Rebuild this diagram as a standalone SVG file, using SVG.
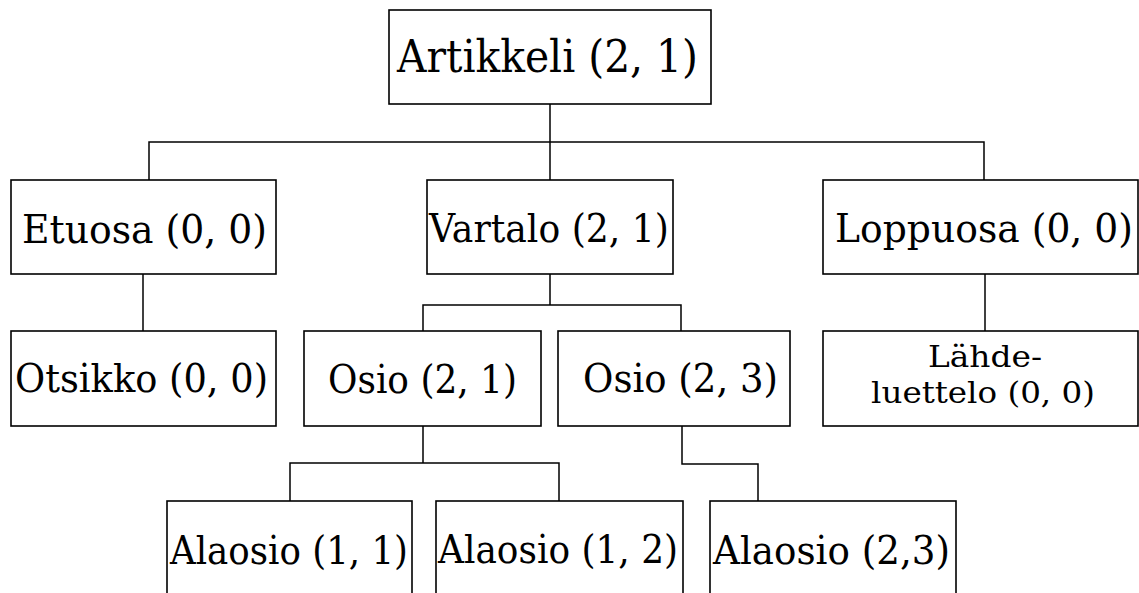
<svg xmlns="http://www.w3.org/2000/svg" width="1139" height="593" viewBox="0 0 1139 593">
<style>
.box{fill:#fff;stroke:#000;stroke-width:1.6}
.lbl{font-family:"DejaVu Serif","Liberation Serif",serif;font-size:39px;fill:#000}
.big{font-size:45px}
.small{font-size:29px}
.conn{fill:none;stroke:#000;stroke-width:1.5}
</style>
<rect width="1139" height="593" fill="#fff"/>
<g id="connectors">
<path class="conn" d="M550,104 V180"/>
<path class="conn" d="M149,180 V142 H984 V180"/>
<path class="conn" d="M143,274 V331"/>
<path class="conn" d="M550,274 V305 M423,331 V305 H681 V331"/>
<path class="conn" d="M985,274 V331"/>
<path class="conn" d="M423,426 V463 M290,501 V463 H559 V501"/>
<path class="conn" d="M682,426 V464 H758 V501"/>
</g>
<g id="artikkeli"><rect class="box" x="389" y="10" width="322" height="94"/><text class="lbl big" x="397" y="72" textLength="301" lengthAdjust="spacingAndGlyphs">Artikkeli (2, 1)</text></g>
<g id="etuosa"><rect class="box" x="11" y="180" width="265" height="94"/><text class="lbl" x="22" y="243" textLength="245" lengthAdjust="spacingAndGlyphs">Etuosa (0, 0)</text></g>
<g id="vartalo"><rect class="box" x="427" y="180" width="246" height="94"/><text class="lbl" x="429" y="242" textLength="240" lengthAdjust="spacingAndGlyphs">Vartalo (2, 1)</text></g>
<g id="loppuosa"><rect class="box" x="823" y="180" width="315" height="94"/><text class="lbl" x="835" y="242" textLength="298" lengthAdjust="spacingAndGlyphs">Loppuosa (0, 0)</text></g>
<g id="otsikko"><rect class="box" x="11" y="331" width="265" height="95"/><text class="lbl" x="15" y="392" textLength="253" lengthAdjust="spacingAndGlyphs">Otsikko (0, 0)</text></g>
<g id="osio21"><rect class="box" x="304" y="331" width="237" height="95"/><text class="lbl" x="328" y="393" textLength="189" lengthAdjust="spacingAndGlyphs">Osio (2, 1)</text></g>
<g id="osio23"><rect class="box" x="558" y="331" width="232" height="95"/><text class="lbl" x="583" y="392" textLength="195" lengthAdjust="spacingAndGlyphs">Osio (2, 3)</text></g>
<g id="lahdeluettelo"><rect class="box" x="823" y="331" width="315" height="95"/><text class="lbl small" x="928" y="367" textLength="114" lengthAdjust="spacingAndGlyphs">Lähde-</text><text class="lbl small" x="871" y="403" textLength="224" lengthAdjust="spacingAndGlyphs">luettelo (0, 0)</text></g>
<g id="alaosio11"><rect class="box" x="167" y="501" width="245" height="100"/><text class="lbl" x="170" y="564" textLength="238" lengthAdjust="spacingAndGlyphs">Alaosio (1, 1)</text></g>
<g id="alaosio12"><rect class="box" x="436" y="501" width="247" height="100"/><text class="lbl" x="438" y="563" textLength="240" lengthAdjust="spacingAndGlyphs">Alaosio (1, 2)</text></g>
<g id="alaosio23"><rect class="box" x="710" y="501" width="246" height="100"/><text class="lbl" x="713" y="564" textLength="237" lengthAdjust="spacingAndGlyphs">Alaosio (2,3)</text></g>
</svg>
